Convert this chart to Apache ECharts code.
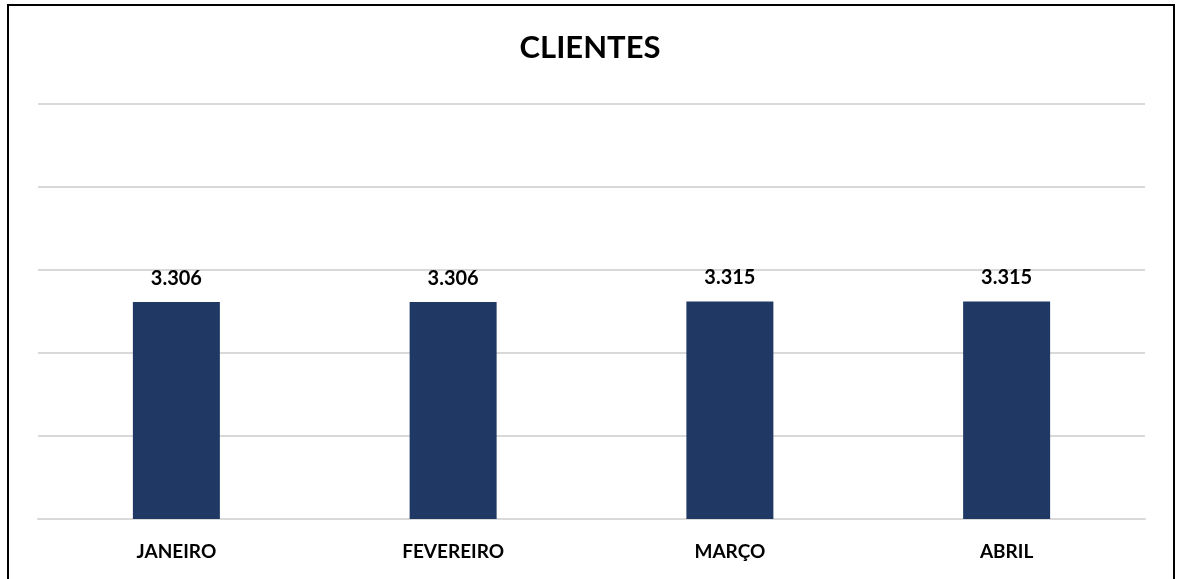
<!DOCTYPE html>
<html>
<head>
<meta charset="utf-8">
<style>
  html, body { margin: 0; padding: 0; background: #fff; }
  #chart { width: 1180px; height: 579px; }
</style>
<script src="https://cdn.jsdelivr.net/npm/echarts@6/dist/echarts.min.js"></script>
</head>
<body>
<div id="chart"></div>
<script>
// data
const months = ['JANEIRO', 'FEVEREIRO', 'MARÇO', 'ABRIL'];
const clientes = [3306, 3306, 3315, 3315];
const axisMax = 6325;
const axisStep = 1265;

const chart = echarts.init(document.getElementById('chart'));
const font = 'Lato, "Open Sans", sans-serif';

chart.setOption({
  animation: false,
  title: {
    text: 'CLIENTES',
    left: 'center',
    top: 27,
    textStyle: { fontFamily: font, fontSize: 31, fontWeight: 'bold', color: '#000' }
  },
  graphic: [{
    type: 'rect',
    shape: { x: 8, y: 5, width: 1166, height: 620 },
    style: { fill: 'none', stroke: '#000', lineWidth: 2 },
    silent: true
  }],
  grid: { left: 38, right: 35, top: 104, bottom: 60 },
  xAxis: {
    type: 'category',
    data: months,
    axisLine: { lineStyle: { color: '#d9d9d9', width: 2 } },
    axisTick: { show: false },
    axisLabel: {
      margin: 23,
      fontFamily: font, fontSize: 19, fontWeight: 'bold', color: '#000'
    }
  },
  yAxis: {
    type: 'value',
    min: 0,
    max: axisMax,
    interval: axisStep,
    axisLabel: { show: false },
    axisLine: { show: false },
    axisTick: { show: false },
    splitLine: { lineStyle: { color: '#d9d9d9', width: 2 } }
  },
  series: [{
    type: 'bar',
    data: clientes,
    barWidth: 87,
    itemStyle: { color: '#203864' },
    label: {
      show: true,
      position: 'top',
      distance: 14,
      fontFamily: font, fontSize: 20, fontWeight: 'bold', color: '#000',
      formatter: p => p.value.toLocaleString('pt-BR')
    }
  }]
});
</script>
</body>
</html>
